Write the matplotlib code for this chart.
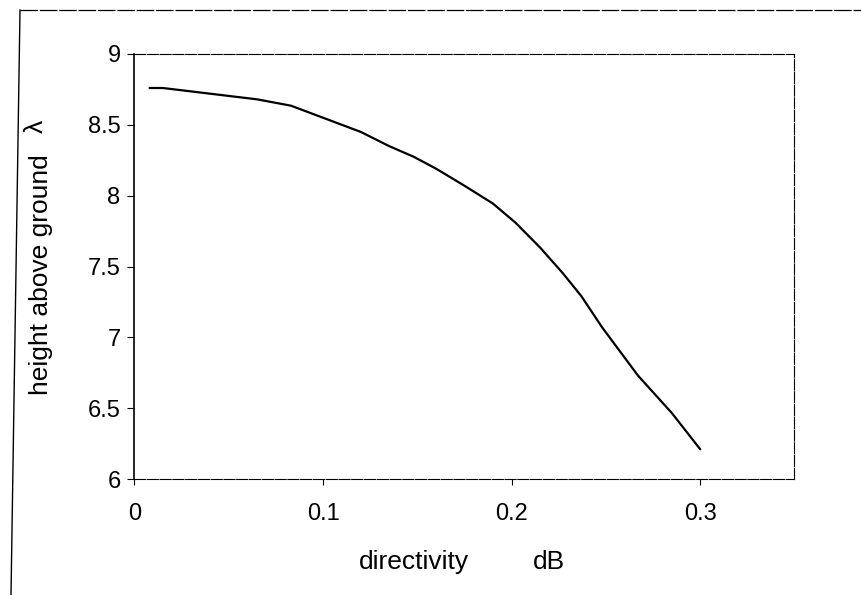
import matplotlib
matplotlib.use("Agg")
import matplotlib.pyplot as plt
from matplotlib.lines import Line2D

plt.rcParams['font.family'] = ['Liberation Sans', 'DejaVu Sans']

# directivity (dB) vs. antenna height above ground (wavelengths)
directivity = [0.008, 0.015, 0.040, 0.065, 0.083, 0.096, 0.110, 0.120, 0.135,
               0.148, 0.160, 0.175, 0.190, 0.202, 0.215, 0.227, 0.237, 0.248,
               0.267, 0.285, 0.300]
height = [8.76, 8.76, 8.72, 8.68, 8.635, 8.57, 8.50, 8.45, 8.35,
          8.275, 8.19, 8.07, 7.945, 7.81, 7.635, 7.455, 7.29, 7.07,
          6.73, 6.465, 6.21]

x_ticks = [0, 0.1, 0.2, 0.3]
x_tick_labels = ["0", "0.1", "0.2", "0.3"]
y_ticks = [6, 6.5, 7, 7.5, 8, 8.5, 9]
y_tick_labels = ["6", "6.5", "7", "7.5", "8", "8.5", "9"]

W, H = 862, 595
fig = plt.figure(figsize=(W / 100, H / 100), dpi=100)
ax_l, ax_r, ax_t, ax_b = 134.5, 794.5, 54, 479
ax = fig.add_axes([ax_l / W, 1 - ax_b / H, (ax_r - ax_l) / W, (ax_b - ax_t) / H])

ax.plot(directivity, height, color="black", lw=1.6,
        solid_capstyle="round", solid_joinstyle="round")

ax.set_xlim(0, 0.35)
ax.set_ylim(6, 9)
ax.set_xticks(x_ticks)
ax.set_xticklabels(x_tick_labels)
ax.set_yticks(y_ticks)
ax.set_yticklabels(y_tick_labels)

ax.tick_params(axis="x", direction="out", length=4, width=0.8, pad=13, labelsize=17)
ax.tick_params(axis="y", direction="out", length=5, width=0.8, pad=5, labelsize=17)

for side in ("top", "right", "bottom"):
    ax.spines[side].set_linewidth(0.8)
    ax.spines[side].set_linestyle((0, (10, 1.5)))
ax.spines["left"].set_linewidth(1.2)


def fx(px):
    return (px - ax_l) / (ax_r - ax_l)


def fy(py):
    return (ax_b - py) / (ax_b - ax_t)


label_size = 19
ax.set_xlabel("directivity", fontsize=label_size)
ax.xaxis.set_label_coords(fx(414), fy(562))
ax.xaxis.label.set_va("center")
ax.text(fx(548.5), fy(562), "dB", transform=ax.transAxes, fontsize=label_size,
        ha="center", va="center")

ax.set_ylabel("height above ground", fontsize=label_size)
ax.yaxis.set_label_coords(fx(41), fy(275))
ax.yaxis.label.set_va("center")
ax.text(fx(36), fy(126), "\u03bb", transform=ax.transAxes, fontsize=label_size,
        ha="center", va="center", rotation=90)

# outer chart frame (top and left edges)
fig.add_artist(Line2D([20 / W, 1.0], [1 - 10 / H, 1 - 10 / H],
                      transform=fig.transFigure, color="black", lw=0.9,
                      linestyle=(0, (14, 1.5))))
fig.add_artist(Line2D([20 / W, 11 / W], [1 - 10 / H, 0.0],
                      transform=fig.transFigure, color="black", lw=1.0))

fig.savefig("out.png", dpi=100)
